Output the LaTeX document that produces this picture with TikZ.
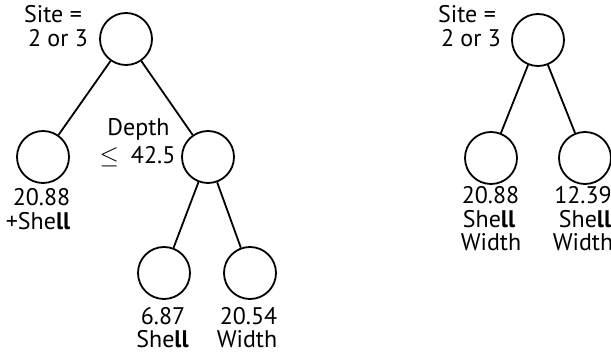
\documentclass[tikz,border=0pt]{standalone}
\usepackage{fontspec}
\setmainfont{PT Sans}
\begin{document}
\begin{tikzpicture}[x=1pt,y=-1pt,
  leaf/.style={circle,draw,line width=1.8pt,minimum size=52pt,inner sep=0pt},
  lbl/.style={anchor=base,inner sep=0pt,font=\fontsize{24}{28}\selectfont},
  edge/.style={line width=1.8pt}]
\useasboundingbox (0,0) rectangle (611,355);
% left tree
\node[leaf] (r1) at (126,39) {};
\node[leaf] (a1) at (43,157) {};
\node[leaf] (d1) at (208,157) {};
\node[leaf] (s1) at (164,273) {};
\node[leaf] (w1) at (250,273) {};
\draw[edge] (r1) -- (a1);
\draw[edge] (r1) -- (d1);
\draw[edge] (d1) -- (s1);
\draw[edge] (d1) -- (w1);
\node[lbl] (t1a) at (53,23) {Site =};
\node[lbl] (t1b) at (58,47) {2 or 3};
\node[lbl] (t2a) at (138.5,136) {Depth};
\node[lbl] (t2b) at (137.5,164) {$\leq$\hspace{12pt}42.5};
\node[lbl] (t3a) at (41.5,206) {20.88};
\node[lbl] (t3b) at (38,230) {+She\textbf{ll}};
\node[lbl] (t4a) at (163,325) {6.87};
\node[lbl] (t4b) at (162.5,348) {She\textbf{ll}};
\node[lbl] (t5a) at (248.5,325) {20.54};
\node[lbl] (t5b) at (247,348) {Width};
% right tree
\node[leaf] (r2) at (538,40) {};
\node[leaf] (a2) at (491,158) {};
\node[leaf] (b2) at (585,158) {};
\draw[edge] (r2) -- (a2);
\draw[edge] (r2) -- (b2);
\node[lbl] (u1a) at (467,23) {Site =};
\node[lbl] (u1b) at (471,47) {2 or 3};
\node[lbl] (u2a) at (490.5,204) {20.88};
\node[lbl] (u2b) at (489,228) {She\textbf{ll}};
\node[lbl] (u2c) at (491,251) {Width};
\node[lbl] (u3a) at (583,204) {12.39};
\node[lbl] (u3b) at (585,228) {She\textbf{ll}};
\node[lbl] (u3c) at (583,251) {Width};
\end{tikzpicture}
\end{document}
